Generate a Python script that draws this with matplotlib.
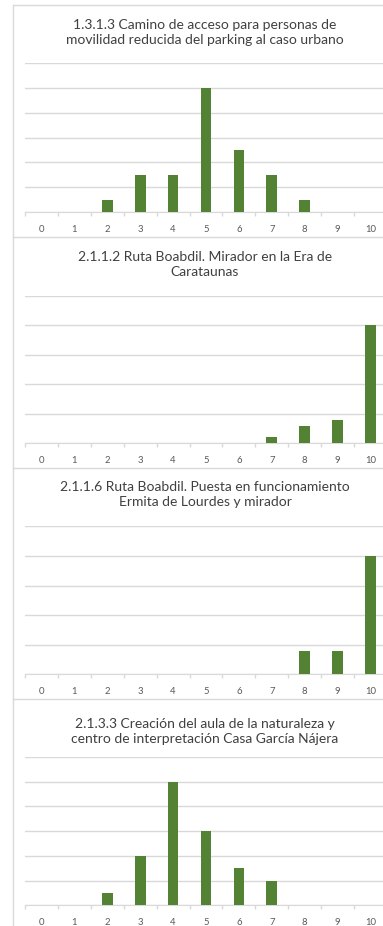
import numpy as np
import matplotlib.pyplot as plt
from matplotlib.lines import Line2D

# Puntuaciones 0-10 y número de respuestas por proyecto
scores = list(range(11))
titles = [
    '1.3.1.3 Camino de acceso para personas de\nmovilidad reducida del parking al caso urbano',
    '2.1.1.2 Ruta Boabdil. Mirador en la Era de\nCarataunas',
    '2.1.1.6 Ruta Boabdil. Puesta en funcionamiento\nErmita de Lourdes y mirador',
    '2.1.3.3 Creación del aula de la naturaleza y\ncentro de interpretación Casa García Nájera',
]
counts_1313 = [0, 0, 1, 3, 3, 10, 5, 3, 1, 0, 0]
counts_2112 = [0, 0, 0, 0, 0, 0, 0, 1, 3, 4, 20]
counts_2116 = [0, 0, 0, 0, 0, 0, 0, 0, 4, 4, 20]
counts_2133 = [0, 0, 1, 4, 10, 6, 3, 2, 0, 0, 0]
y_max = [12, 25, 25, 12]
y_step = [2, 5, 5, 2]

W, H = 383, 926
GREEN = '#548235'
GRID = '#d9d9d9'
TEXT = '#595959'

plt.rcParams['font.family'] = ['Lato', 'DejaVu Sans']
fig = plt.figure(figsize=(W / 100, H / 100), dpi=100)

# panel geometry in pixels: border top, title line 1, axes top, baseline
panels = [
    (5, 25, 63, 212),
    (237, 257, 295.7, 443.3),
    (468, 487, 526.3, 674.3),
    (699, 724, 757, 905.3),
]
all_counts = [counts_1313, counts_2112, counts_2116, counts_2133]

left_px, right_px = 25, 387
border_x = 12.5

for i, (top, t1, ax_top, base) in enumerate(panels):
    # chart border
    bottom = panels[i + 1][0] if i + 1 < len(panels) else H + 2
    fig.add_artist(Line2D([border_x / W, 1.02], [1 - top / H] * 2,
                          color=GRID, lw=1, transform=fig.transFigure))
    fig.add_artist(Line2D([border_x / W] * 2, [1 - top / H, 1 - bottom / H],
                          color=GRID, lw=1, transform=fig.transFigure))

    fig.text(205 / W, 1 - (t1 - 6) / H, titles[i], ha='center', va='top',
             fontsize=10, color='#404040', linespacing=1.32)

    ax = fig.add_axes([left_px / W, 1 - base / H,
                       (right_px - left_px) / W, (base - ax_top) / H])
    ax.bar(scores, all_counts[i], width=0.325, color=GREEN, zorder=3)
    ax.set_xlim(-0.5, 10.5)
    ax.set_ylim(0, y_max[i])
    ax.set_yticks(np.arange(0, y_max[i] + 0.1, y_step[i]))
    ax.yaxis.grid(True, color=GRID, lw=1)
    ax.tick_params(axis='y', length=0, labelleft=False)
    ax.set_xticks(scores)
    ax.set_xticks(np.arange(-0.5, 11, 1), minor=True)
    ax.tick_params(axis='x', which='major', length=0, labelsize=6.8,
                   labelcolor=TEXT, pad=9)
    ax.tick_params(axis='x', which='minor', length=3, color=GRID, width=1)
    for s in ['top', 'right', 'left']:
        ax.spines[s].set_visible(False)
    ax.spines['bottom'].set_color(GRID)
    ax.set_facecolor('none')
    ax.set_axisbelow(True)

fig.savefig('out.png', dpi=100)
